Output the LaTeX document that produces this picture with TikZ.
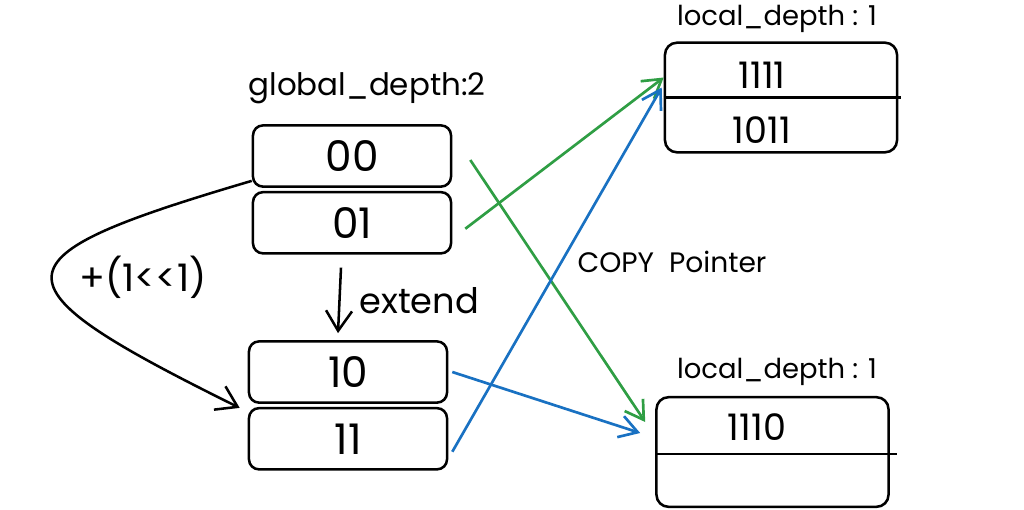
\documentclass[tikz,border=0pt]{standalone}
\usepackage{fontspec}
\setmainfont{Poppins}
\usetikzlibrary{positioning,calc,arrows.meta}
\definecolor{ptrgreen}{RGB}{47,158,68}
\definecolor{ptrblue}{RGB}{25,113,194}

\begin{document}
\begin{tikzpicture}[x=0.025cm, y=-0.025cm,
    slot/.style={draw, line width=1.8pt, rounded corners=2.5mm, inner sep=0pt,
      minimum width=4.95cm, minimum height=1.53cm, font=\fontsize{30}{34}\selectfont},
    bucket/.style={draw, line width=1.8pt, rounded corners=3mm, inner sep=0pt,
      minimum width=5.8cm, minimum height=2.74cm},
    entry/.style={font=\fontsize{26}{30}\selectfont},
    note/.style={font=\fontsize{19.5}{23}\selectfont},
    ptr/.style={line width=1.9pt, -{Straight Barb[length=4.5mm,width=5.5mm]}},
    bigptr/.style={line width=1.8pt, -{Straight Barb[length=5mm,width=6.5mm]}},
  ]
    \useasboundingbox (0,0) rectangle (1024,509);

    % directory before extend
    \node [slot] (b00) at (352,156) {00};
    \node [slot, below=0.075cm of b00] (b01) {01};
    \node [note, font=\fontsize{22}{26}\selectfont] (gdepth) at (367,88) {global\_depth:2};

    % directory after extend
    \node [slot] (b10) at (348,372) {10};
    \node [slot, below=0.075cm of b10] (b11) {11};

    % buckets
    \node [bucket] (bktA) at (781,97.5) {};
    \draw [line width=1.8pt] (bktA.west) -- ($(bktA.east)+(3,0)$);
    \node [entry] (e1111) at (762,75) {1111};
    \node [entry] (e1011) at (762,130) {1011};
    \node [note] (ldepthA) at (777,19) {local\_depth : 1};

    \node [bucket] (bktB) at (772.5,452) {};
    \draw [line width=1.8pt] ($(bktB.west)+(0,2)$) -- ($(bktB.east)+(7,2)$);
    \node [entry] (e1110) at (757,427) {1110};
    \node [note] (ldepthB) at (777,372) {local\_depth : 1};

    % extend
    \draw [bigptr]
      ($(b01.south)+(-11,13)$) -- ($(b10.north)+(-10,-7)$)
      node [pos=0.5, right=0.35cm, font=\fontsize{25}{29}\selectfont] {extend};
    \draw [bigptr]
      ($(b00.south west)+(0,-7)$)
      .. controls (-10,258) and (-15,282) ..
      ($(b10.south west)+(-8,4)$);
    \node [font=\fontsize{27}{30}\selectfont] (shift) at (143,277) {+(1<\kern0pt<1)};

    % copied pointers
    \draw [ptr, ptrgreen] ($(b00.east)+(18,4)$) -- ($(bktB.west)+(-10,-30)$);
    \draw [ptr, ptrgreen] ($(b01.east)+(13,6)$) -- ($(bktA.west)+(0,-20)$);
    \draw [ptr, ptrblue] ($(b10.east)+(4,0)$) -- ($(bktB.west)+(-15,-19)$);
    \draw [ptr, ptrblue] ($(b11.east)+(4,13)$) -- ($(bktA.west)+(-2,-10)$);
    \node [note, font=\fontsize{20}{24}\selectfont] (copy) at (672,262) {COPY\ \ Pointer};
  \end{tikzpicture}
\end{document}
